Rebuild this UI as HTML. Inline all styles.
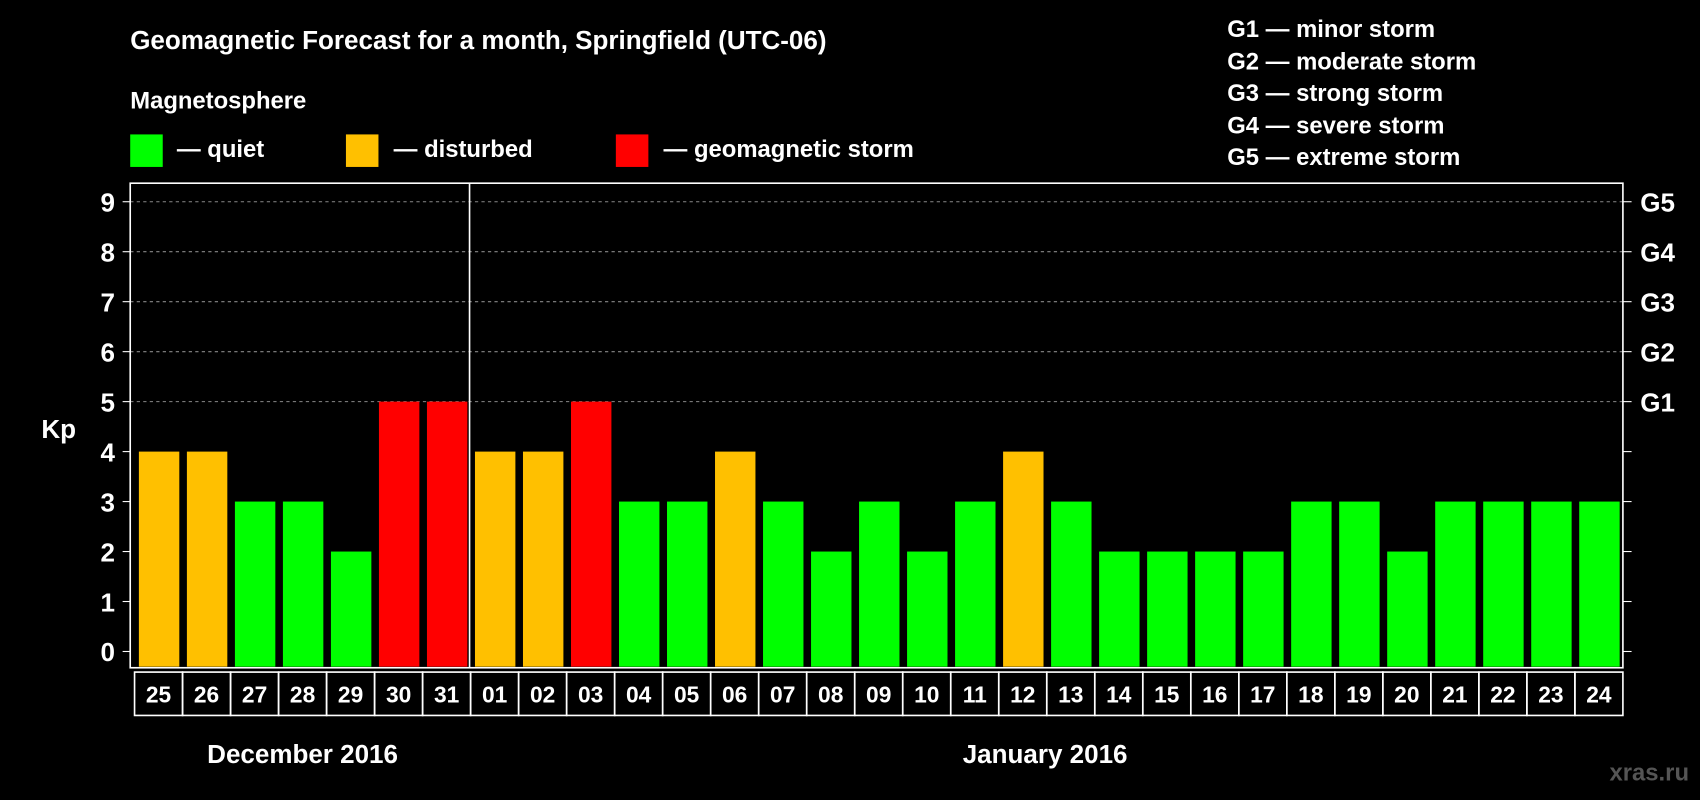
<!DOCTYPE html>
<html><head><meta charset="utf-8"><style>
html,body{margin:0;padding:0;background:#000;}
svg{display:block;font-family:"Liberation Sans",Arial,sans-serif;font-weight:bold;}
</style></head><body>
<svg id="chart" width="1700" height="800" viewBox="0 0 1568 738" xmlns="http://www.w3.org/2000/svg">
<rect width="1568" height="738" fill="#000"/>
<text x="120" y="45" fill="#fff" font-size="24">Geomagnetic Forecast for a month, Springfield (UTC-06)</text>
<text x="120" y="100" fill="#fff" font-size="22">Magnetosphere</text>
<g><rect x="120" y="124" width="30" height="30" fill="#00ff00"/><text x="163" y="145" fill="#fff" font-size="22">— quiet</text></g>
<g><rect x="319" y="124" width="30" height="30" fill="#ffc000"/><text x="363" y="145" fill="#fff" font-size="22">— disturbed</text></g>
<g><rect x="568" y="124" width="30" height="30" fill="#ff0000"/><text x="612" y="145" fill="#fff" font-size="22">— geomagnetic storm</text></g>
<g fill="#fff" font-size="22">
<text x="1132" y="34">G1 — minor storm</text>
<text x="1132" y="64">G2 — moderate storm</text>
<text x="1132" y="93">G3 — strong storm</text>
<text x="1132" y="123">G4 — severe storm</text>
<text x="1132" y="152">G5 — extreme storm</text>
</g>
<text x="38" y="404" fill="#fff" font-size="24">Kp</text>
<g id="plot"></g>
<text x="279" y="704" fill="#fff" font-size="24" text-anchor="middle">December 2016</text>
<text x="964" y="704" fill="#fff" font-size="24" text-anchor="middle">January 2016</text>
<text x="1558" y="720" fill="#555" font-size="22" text-anchor="end">xras.ru</text>
</svg>
<script>
const days = ["25","26","27","28","29","30","31","01","02","03","04","05","06","07","08","09","10","11","12","13","14","15","16","17","18","19","20","21","22","23","24"];
const kpValues = [4,4,3,3,2,5,5,4,4,5,3,3,4,3,2,3,2,3,4,3,2,2,2,2,3,3,2,3,3,3,3];
const yTicks = [0,1,2,3,4,5,6,7,8,9];
const gLabels = ["G1","G2","G3","G4","G5"];
const gLevels = [5,6,7,8,9];

const NS="http://www.w3.org/2000/svg";
const L=120,R=1497,T=169,B=616,x0=124;
const colW=(R-x0)/days.length;
const y=v=>601-v*46.1;
const xc=i=>x0+i*colW;
const g=document.getElementById('plot');
function mk(t,a){const e=document.createElementNS(NS,t);for(const k in a)e.setAttribute(k,a[k]);g.appendChild(e);return e;}
// grid
gLevels.forEach((v,i)=>{
  const l=mk('line',{x1:L,x2:R,y1:y(v),y2:y(v),stroke:'#888','stroke-dasharray':'3,3'});
  
  
  const t=mk('text',{x:1513,y:y(v)+9,fill:'#fff','font-size':24});
  t.textContent=gLabels[i];
  
  
});
yTicks.forEach(v=>{
  mk('line',{x1:113,x2:L,y1:y(v),y2:y(v),stroke:'#fff'});
  mk('line',{x1:R,x2:1505,y1:y(v),y2:y(v),stroke:'#fff'});
  const t=mk('text',{x:106,y:y(v)+9,fill:'#fff','font-size':24,'text-anchor':'end'});
  t.textContent=v;
  
  
});
const frame=mk('rect',{x:L,y:T,width:R-L,height:B-T,fill:'none',stroke:'#fff','stroke-width':1.5});


kpValues.forEach((v,i)=>{
  const c=v>=5?'#ff0000':(v>=4?'#ffc000':'#00ff00');
  const b=mk('rect',{x:xc(i)+4,y:y(v),width:colW-7,height:B-1-y(v),fill:c});
  
  
  const bx=mk('rect',{x:xc(i),y:620,width:colW,height:40,fill:'none',stroke:'#fff','stroke-width':1.5});
  
  
  const t=mk('text',{x:xc(i)+colW/2,y:648,fill:'#fff','font-size':21,'text-anchor':'middle'});
  t.textContent=days[i];
  
  
});
const sep=mk('line',{x1:xc(7)-1,x2:xc(7)-1,y1:T,y2:B,stroke:'#fff','stroke-width':1.5});


</script>
</body></html>
